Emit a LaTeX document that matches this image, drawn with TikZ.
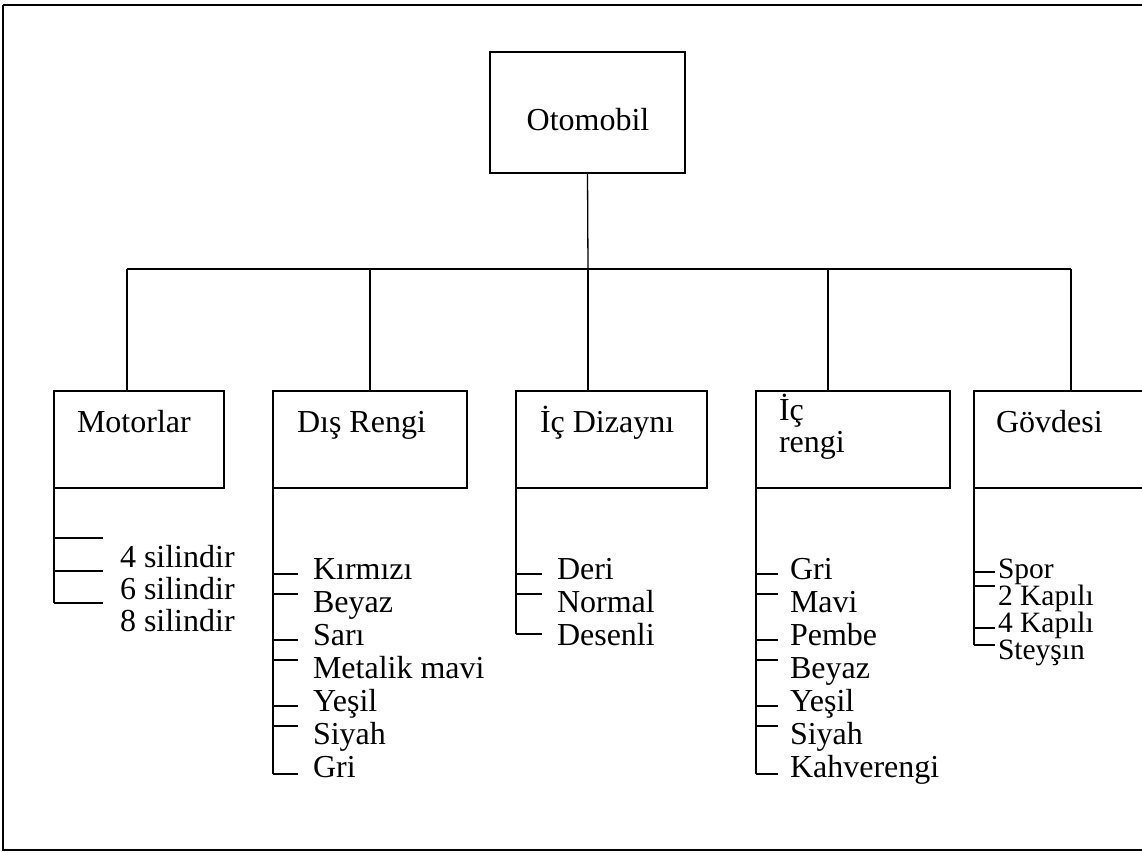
\documentclass[tikz,border=0pt]{standalone}
\usepackage{fontspec}
\setmainfont{Liberation Serif}
\begin{document}
\begin{tikzpicture}[x=1pt,y=-1pt,
  every node/.style={font=\fontsize{32}{34}\selectfont, inner sep=0pt, outer sep=0pt},
  box/.style={draw, line width=1.3pt, anchor=north west, minimum height=97pt},
  wire/.style={line width=1.3pt},
  tick/.style={line width=1.2pt},
  item/.style={anchor=base west},
  tightitem/.style={anchor=base west, font=\fontsize{29.5}{30}\selectfont}]
\useasboundingbox (0,0) rectangle (1142,853);
\clip (0,0) rectangle (1142,853);
\fill[white] (0,0) rectangle (1142,853);

% page frame (right side runs off the sheet)
\draw[line width=2.4pt] (3,5) -- (1160,5);
\draw[line width=1.2pt] (3,5) -- (3,850) -- (1160,850);

% root
\node[box, minimum width=195pt, minimum height=121pt] (oto) at (490,52) {};
\node[anchor=base] (otolbl) at (588,131) {Otomobil};

% second level boxes
\node[box, minimum width=170pt] (mot) at (54,391) {};
\node[box, minimum width=194pt] (dis) at (273,391) {};
\node[box, minimum width=191pt] (dizayn) at (516,391) {};
\node[box, minimum width=194pt] (icr) at (756,391) {};
\node[box, minimum width=230pt] (gov) at (974,391) {};

\node[item] (motlbl) at (77,432) {Motorlar};
\node[item] (dislbl) at (297,432) {Dış Rengi};
\node[item] (dizlbl) at (540,432) {İç Dizaynı};
\node[item] (icrlbl1) at (779,420) {İç};
\node[item] (icrlbl2) at (779,452) {rengi};
\node[item] (govlbl) at (996,432) {Gövdesi};

% bus
\coordinate (bus1) at (127,269);
\coordinate (bus2) at (370,269);
\coordinate (bus3) at (588,269);
\coordinate (bus4) at (828,269);
\coordinate (bus5) at (1071,269);
\draw[wire] (oto.south) -- (bus3);
\draw[wire] (bus1) -- (bus5);
\draw[wire] (bus1) -- (bus1 |- mot.north);
\draw[wire] (bus2) -- (bus2 |- dis.north);
\draw[wire] (bus3) -- (bus3 |- dizayn.north);
\draw[wire] (bus4) -- (bus4 |- icr.north);
\draw[wire] (bus5) -- (bus5 |- gov.north);

% Motorlar
\coordinate (motend) at (54,603);
\draw[wire] (mot.south west) -- (motend);
\foreach \txt/\base/\tk [count=\i] in {4 silindir/567/538, 6 silindir/599/571, 8 silindir/631/603} {
  \node[item] (mot-\i) at (120,\base) {\txt};
  \draw[tick] (54,\tk) -- (103,\tk);
}

% Dış Rengi
\coordinate (disend) at (273,774);
\draw[wire] (dis.south west) -- (disend);
\foreach \txt/\base/\tk [count=\i] in {Kırmızı/579/574, Beyaz/612/594, Sarı/645/640, Metalik mavi/678/660, Yeşil/711/706, Siyah/744/726, Gri/777/774} {
  \node[item] (dis-\i) at (313,\base) {\txt};
  \draw[tick] (273,\tk) -- (298,\tk);
}

% İç Dizaynı
\coordinate (dizend) at (516,634);
\draw[wire] (dizayn.south west) -- (dizend);
\foreach \txt/\base/\tk [count=\i] in {Deri/579/574, Normal/612/594, Desenli/645/634} {
  \node[item] (diz-\i) at (557,\base) {\txt};
  \draw[tick] (516,\tk) -- (542,\tk);
}

% İç rengi
\coordinate (icrend) at (756,774);
\draw[wire] (icr.south west) -- (icrend);
\foreach \txt/\base/\tk [count=\i] in {Gri/579/574, Mavi/612/594, Pembe/645/640, Beyaz/678/660, Yeşil/711/706, Siyah/744/726, Kahverengi/777/774} {
  \node[item] (icr-\i) at (790,\base) {\txt};
  \draw[tick] (756,\tk) -- (778,\tk);
}

% Gövdesi
\coordinate (govend) at (974,645);
\draw[wire] (gov.south west) -- (govend);
\foreach \txt/\base/\tk [count=\i] in {Spor/578/572, 2 Kapılı/605/586, 4 Kapılı/632/628, Steyşın/659/645} {
  \node[tightitem] (gov-\i) at (998,\base) {\txt};
  \draw[tick] (974,\tk) -- (995,\tk);
}
\end{tikzpicture}
\end{document}
